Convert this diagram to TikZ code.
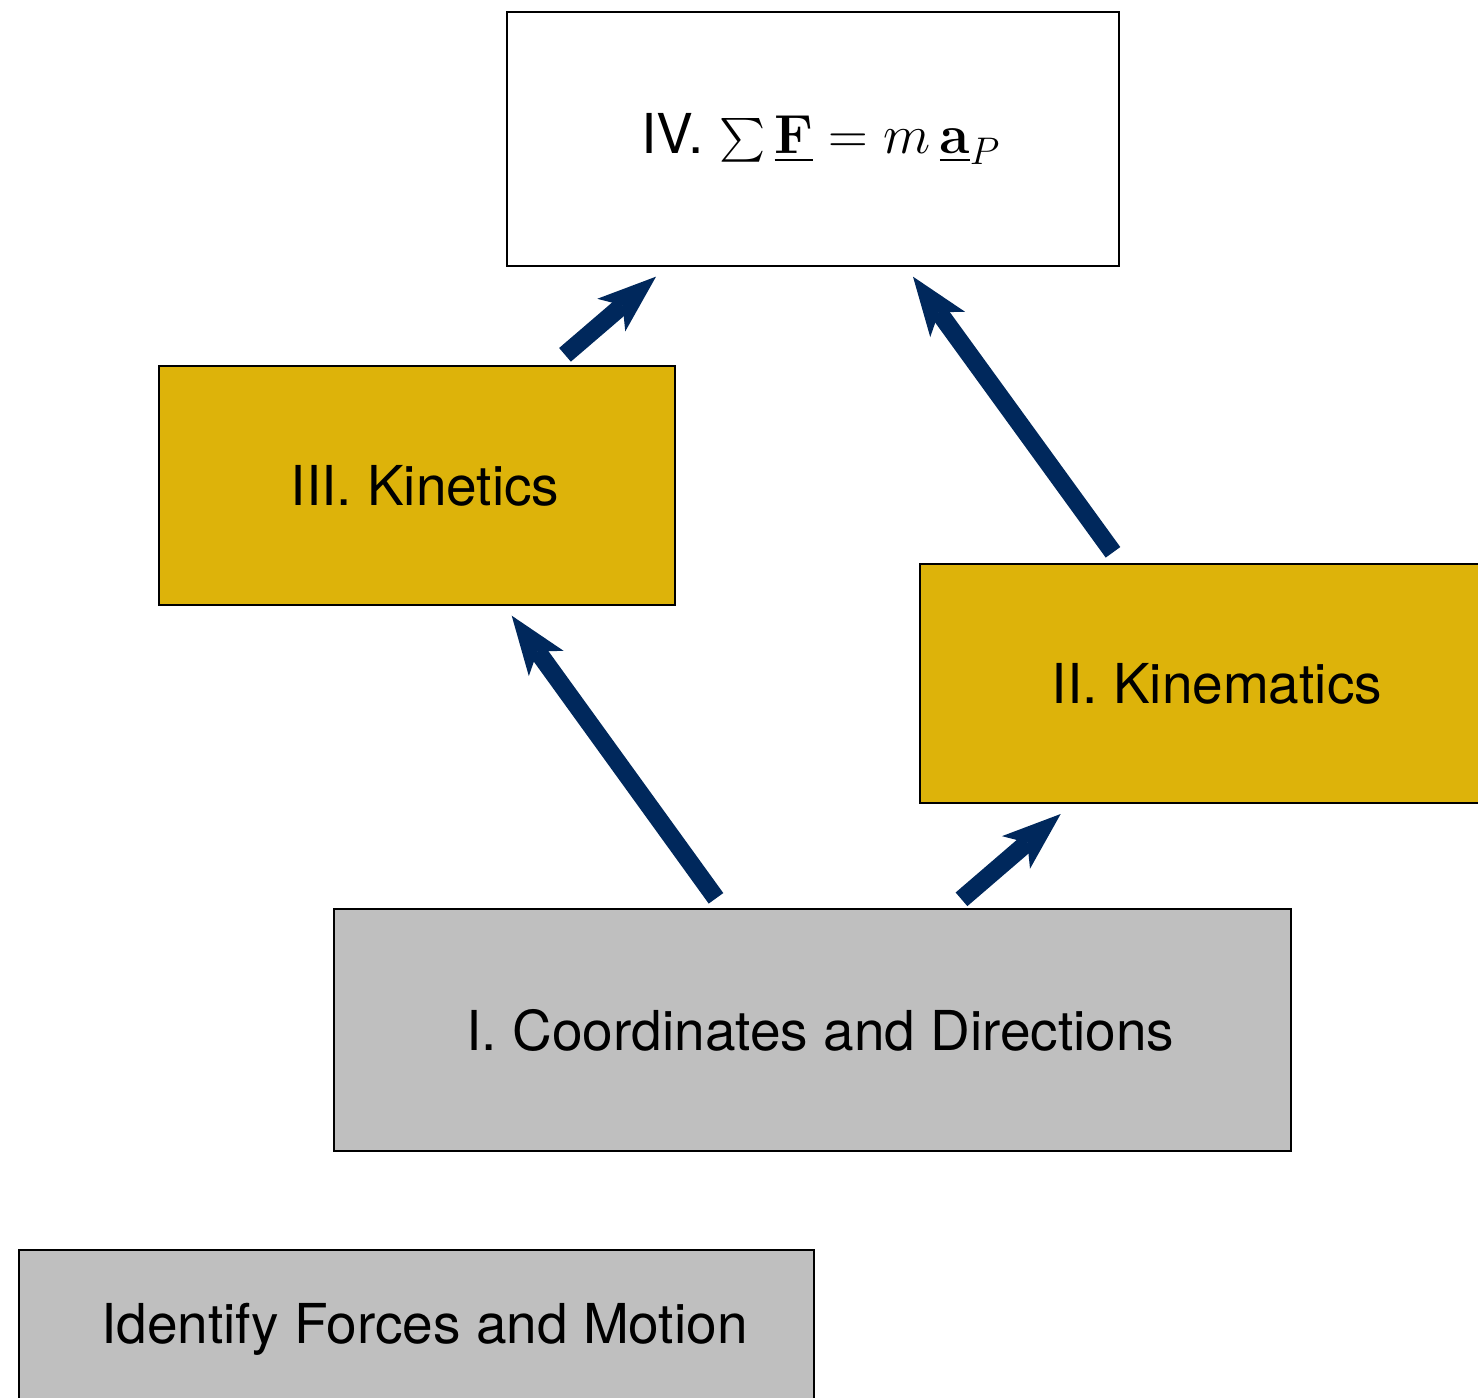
\RequirePackage{fix-cm}
\documentclass[tikz,border=0pt]{standalone}
\usepackage{exscale}
\usepackage[no-math]{fontspec}
\setmainfont{TeX Gyre Heros}
\usetikzlibrary{arrows.meta}
\definecolor{gold}{RGB}{221,179,10}
\definecolor{boxgray}{RGB}{191,191,191}
\definecolor{navy}{RGB}{0,40,92}
\tikzset{
  box/.style={draw=black, line width=0.8pt, rectangle, inner sep=0pt,
    font=\fontsize{31.3}{38}\selectfont},
  arr/.style={draw=navy, line width=0.36cm,
    -{Stealth[length=1.18cm, width=0.86cm, inset=0.3cm, line width=0pt, fill=navy]}}
}
\begin{document}
\begin{tikzpicture}[x=0.02cm, y=-0.02cm]
\useasboundingbox (0,0) rectangle (1478,1398);
\clip (0,0) rectangle (1478,1398);
\node[box, fill=white, minimum width=12.24cm, minimum height=5.08cm] (IV) at (813,139)
  {\hspace*{0.32cm}IV. $\sum \underline{\mathbf{F}} = m\,\underline{\mathbf{a}}_P$};
\node[box, fill=gold, minimum width=10.32cm, minimum height=4.78cm] (III) at (417,485.5)
  {\hspace*{0.32cm}III. Kinetics};
\node[box, fill=gold, minimum width=11.56cm, minimum height=4.78cm] (II) at (1209,683.5)
  {\hspace*{0.32cm}II. Kinematics};
\node[box, fill=boxgray, minimum width=19.14cm, minimum height=4.84cm] (I) at (812.5,1030)
  {\hspace*{0.32cm}I. Coordinates and Directions};
\node[box, fill=boxgray, minimum width=15.9cm, minimum height=4.8cm,
  text height=0.8cm, text depth=1.86cm] (ID) at (416.5,1370)
  {\hspace*{0.32cm}Identify Forces and Motion};
\draw[arr] ([shift={(148,-10.5)}]III.north) -- ([shift={(-157,10)}]IV.south);
\draw[arr] ([shift={(-96,-11)}]II.north) -- ([shift={(100,10)}]IV.south);
\draw[arr] ([shift={(-96.5,-10)}]I.north) -- ([shift={(94.7,10)}]III.south);
\draw[arr] ([shift={(149,-9)}]I.north) -- ([shift={(-148.3,10.3)}]II.south);
\end{tikzpicture}
\end{document}
